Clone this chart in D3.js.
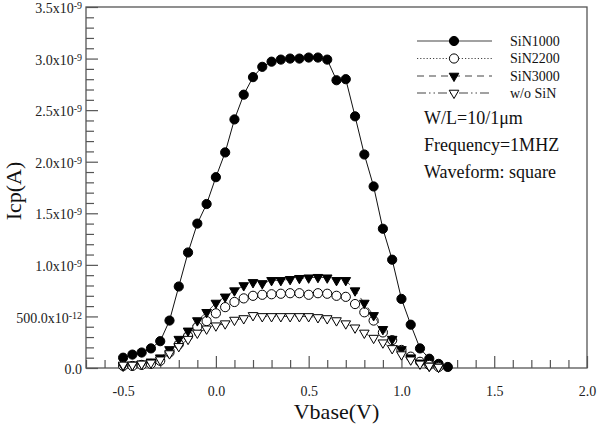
<!DOCTYPE html>
<html>
<head>
<meta charset="utf-8">
<script src="https://cdn.jsdelivr.net/npm/d3@7/dist/d3.min.js"></script>
<style>
html,body{margin:0;padding:0;background:#fff;}
svg{display:block;font-family:"Liberation Serif","Times New Roman",serif;}
</style>
</head>
<body>
<svg id="chart" width="598" height="429"></svg>
<script>
// Vbase (V)
const vbase = [-0.5,-0.45,-0.4,-0.35,-0.3,-0.25,-0.2,-0.15,-0.1,-0.05,0,0.05,0.1,0.15,0.2,0.25,0.3,0.35,0.4,0.45,0.5,0.55,0.6,0.65,0.7,0.75,0.8,0.85,0.9,0.95,1.0,1.05,1.1,1.15,1.2,1.25];
// Icp values in units of 1e-9 A
const sin1000 = [0.10,0.13,0.15,0.19,0.26,0.46,0.79,1.12,1.40,1.59,1.85,2.09,2.41,2.65,2.82,2.92,2.97,2.99,3.00,3.00,3.01,3.01,2.99,2.79,2.80,2.44,2.07,1.76,1.35,1.05,0.67,0.42,0.19,0.09,0.04,0.01];
const sin2200 = [0.02,0.02,0.03,0.04,0.07,0.15,0.23,0.31,0.40,0.455,0.53,0.59,0.64,0.675,0.70,0.71,0.715,0.72,0.725,0.725,0.71,0.725,0.72,0.70,0.69,0.62,0.54,0.46,0.345,0.27,0.175,0.11,0.06,0.03,0.01];
const sin3000 = [0.02,0.03,0.04,0.06,0.10,0.18,0.28,0.36,0.46,0.54,0.63,0.69,0.75,0.80,0.83,0.82,0.85,0.85,0.86,0.87,0.875,0.88,0.875,0.85,0.85,0.75,0.63,0.51,0.375,0.28,0.18,0.10,0.05,0.02,0.01];
const woSiN   = [0.03,0.03,0.04,0.05,0.08,0.14,0.21,0.28,0.34,0.38,0.41,0.43,0.465,0.48,0.51,0.50,0.50,0.50,0.50,0.50,0.50,0.49,0.48,0.46,0.43,0.39,0.34,0.29,0.245,0.19,0.13,0.08,0.04,0.02,0.01];
const seriesNames = ["SiN1000","SiN2200","SiN3000","w/o SiN"];
// tick labels
const xTickValues = [-0.5,0,0.5,1.0,1.5,2.0];
const xTickLabels = ["-0.5","0.0","0.5","1.0","1.5","2.0"];
const yTickValues = [0,0.5,1.0,1.5,2.0,2.5,3.0,3.5];
const yTickBase = ["0.0","500.0x10","1.0x10","1.5x10","2.0x10","2.5x10","3.0x10","3.5x10"];
const yTickExp  = ["","-12","-9","-9","-9","-9","-9","-9"];
const xMinor = [-0.7,-0.6,-0.4,-0.3,-0.2,-0.1,0.1,0.2,0.3,0.4,0.6,0.7,0.8,0.9,1.1,1.2,1.3,1.4,1.6,1.7,1.8,1.9];
const yMinor = [0.1,0.2,0.3,0.4,0.6,0.7,0.8,0.9,1.1,1.2,1.3,1.4,1.6,1.7,1.8,1.9,2.1,2.2,2.3,2.4,2.6,2.7,2.8,2.9,3.1,3.2,3.3,3.4];
const infoLines = ["W/L=10/1\u03bcm","Frequency=1MHZ","Waveform: square"];

const svg = d3.select("#chart");
const L = 86, R = 587, T = 7, B = 368;
const x = d3.scaleLinear().domain([-0.7, 2.0]).range([L, R]);
const y = d3.scaleLinear().domain([0, 3.5]).range([B, T]);
const axisColor = "#555";

// frame
svg.append("rect").attr("x", L).attr("y", T).attr("width", R - L).attr("height", B - T)
  .attr("fill", "none").attr("stroke", axisColor).attr("stroke-width", 1.3);

function styleAxis(g) {
  g.select(".domain").remove();
  g.selectAll(".tick line").attr("stroke", axisColor).attr("stroke-width", 1.2);
}

// x minor
svg.append("g").attr("transform", `translate(0,${B})`)
  .call(d3.axisBottom(x).tickValues(xMinor).tickSize(-8).tickFormat(""))
  .call(styleAxis);
// x major
const gx = svg.append("g").attr("transform", `translate(0,${B})`)
  .call(d3.axisBottom(x).tickValues(xTickValues).tickSize(-12).tickPadding(18)
    .tickFormat((d, i) => xTickLabels[i]))
  .call(styleAxis);
gx.selectAll(".tick text").attr("font-family", "Liberation Serif").attr("font-size", 14).attr("fill", "#222");

// y minor
svg.append("g").attr("transform", `translate(${L},0)`)
  .call(d3.axisLeft(y).tickValues(yMinor).tickSize(-8).tickFormat(""))
  .call(styleAxis);
// y major
const gy = svg.append("g").attr("transform", `translate(${L},0)`)
  .call(d3.axisLeft(y).tickValues(yTickValues).tickSize(-12).tickPadding(-8).tickFormat(""))
  .call(styleAxis);
gy.selectAll(".tick text").each(function(d, i) {
  const t = d3.select(this);
  t.text(null).attr("x", -4).attr("dy", "0.4em").attr("text-anchor", "end")
   .attr("font-family", "Liberation Serif").attr("font-size", 14).attr("fill", "#222");
  t.append("tspan").text(yTickBase[i]);
  if (yTickExp[i]) t.append("tspan").attr("font-size", 10).attr("dy", "-0.4em").text(yTickExp[i]);
});

// axis titles
svg.append("text").attr("x", (L + R) / 2).attr("y", 419).attr("text-anchor", "middle")
  .attr("font-size", 22).attr("fill", "#111").text("Vbase(V)");
svg.append("text").attr("transform", "translate(21,191) rotate(-90)").attr("text-anchor", "middle")
  .attr("font-size", 22).attr("fill", "#111").text("Icp(A)");

const styles = [
  {vals: sin1000, dash: null, sym: "circle", fill: "#000"},
  {vals: sin2200, dash: "1.2,2", sym: "circle", fill: "#fff"},
  {vals: sin3000, dash: "7,5", sym: "tri", fill: "#000"},
  {vals: woSiN, dash: "9,3,1.5,3,1.5,3", sym: "tri", fill: "#fff"}
];
const circleSym = d3.symbol().type(d3.symbolCircle).size(Math.PI * 4.6 * 4.6);
const triSym = d3.symbol().type(d3.symbolTriangle).size(40);
function drawMarker(g, px, py, st) {
  const p = g.append("path")
    .attr("fill", st.fill).attr("stroke", "#000").attr("stroke-width", 1);
  if (st.sym === "circle") p.attr("d", circleSym()).attr("transform", `translate(${px},${py})`);
  else p.attr("d", triSym()).attr("transform", `translate(${px},${py}) rotate(180)`);
}

const line = d3.line().x(d => x(d[0])).y(d => y(d[1]));
styles.forEach((st, si) => {
  const pts = st.vals.map((v, i) => [vbase[i], v]);
  const g = svg.append("g");
  const path = g.append("path").attr("d", line(pts)).attr("fill", "none")
    .attr("stroke", si === 0 ? "#111" : "#444").attr("stroke-width", 1);
  if (st.dash) path.attr("stroke-dasharray", st.dash);
  pts.forEach(p => drawMarker(g, x(p[0]), y(p[1]), st));
});

// legend
const legY = [41, 58.5, 76, 93];
const lg = svg.append("g");
styles.forEach((st, i) => {
  const ln = lg.append("line").attr("x1", 417).attr("x2", 492).attr("y1", legY[i]).attr("y2", legY[i])
    .attr("stroke", "#444").attr("stroke-width", 1.2);
  if (st.dash) ln.attr("stroke-dasharray", st.dash);
  drawMarker(lg, 454, legY[i], st);
  lg.append("text").attr("x", 510).attr("y", legY[i]).attr("dy", "0.35em")
    .attr("font-size", 14).attr("fill", "#111").text(seriesNames[i]);
});
const infoY = [124, 151, 178];
infoLines.forEach((t, i) => {
  svg.append("text").attr("x", 424).attr("y", infoY[i]).attr("font-size", 18).attr("fill", "#111").text(t);
});
</script>
</body>
</html>
